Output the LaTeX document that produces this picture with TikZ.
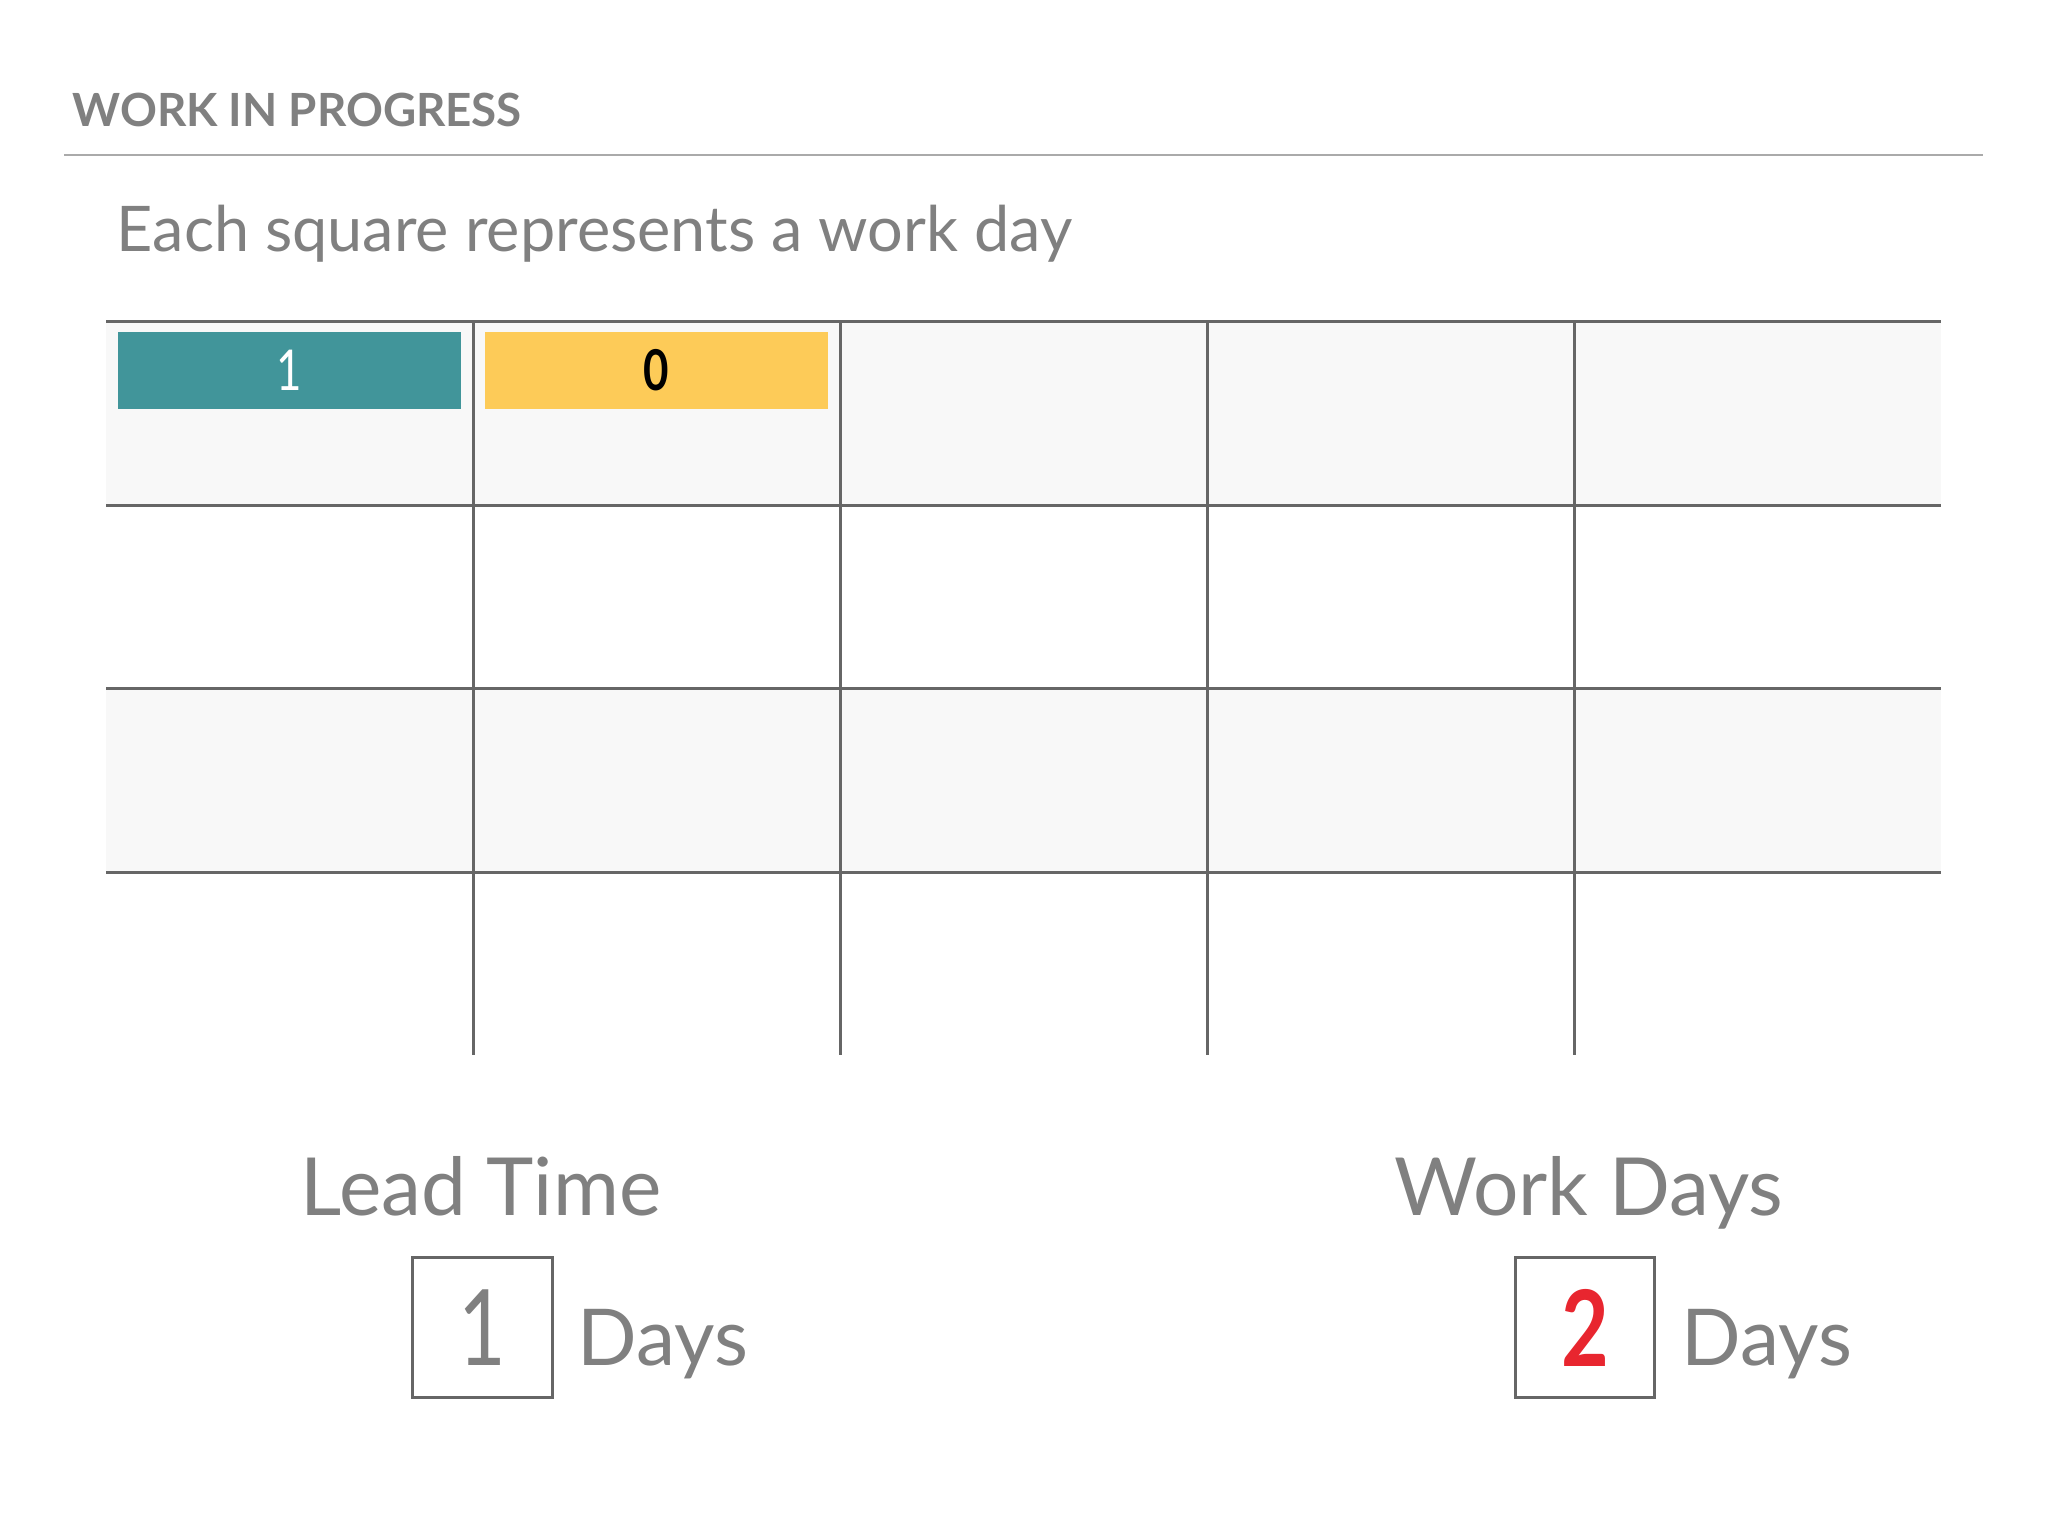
\documentclass[tikz,border=0pt]{standalone}
\usepackage{fontspec}
\setmainfont{Lato}
\definecolor{txtgray}{HTML}{808080}
\definecolor{rulegray}{HTML}{AAAAAA}
\definecolor{linegray}{HTML}{666666}
\definecolor{rowgray}{HTML}{F8F8F8}
\definecolor{teal}{HTML}{41959A}
\definecolor{mustard}{HTML}{FDCB58}
\definecolor{alarm}{HTML}{E8262F}
\newcommand{\narrow}[1]{\scalebox{0.78}[1]{#1}}
\tikzset{
  gridline/.style={draw=linegray, line width=0.85pt},
  daybar/.style={minimum width=3.43cm, minimum height=0.77cm, inner sep=0pt},
  countbox/.style={draw=linegray, line width=0.85pt, minimum size=1.39cm, inner sep=0pt},
  graytext/.style={text=txtgray, inner sep=0pt, anchor=base west}
}
\begin{document}
\begin{tikzpicture}[x=0.01cm, y=-0.01cm]
\useasboundingbox[fill=white] (0,0) rectangle (2048,1536);

\node[graytext, font=\fontsize{13}{13}\selectfont\bfseries] (title) at (72,126) {WORK IN PROGRESS};
\draw[draw=rulegray, line width=0.85pt] (64,155) -- (1983,155);
\node[graytext, font=\fontsize{17.9}{17.9}\selectfont] (note) at (116,251) {Each square represents a work day};

% grid
\fill[rowgray] (106,321) rectangle (1941,505);
\fill[rowgray] (106,688) rectangle (1941,872);
\foreach \y in {321,505,688,872}
  \draw[gridline] (106,\y) -- (1941,\y);
\foreach \x in {473,840,1207,1574}
  \draw[gridline] (\x,321) -- (\x,1055);

\node[daybar, fill=teal, text=white, font=\fontsize{16}{16}\selectfont] (leadbar) at (289.5,370.5) {\narrow{1}};
\node[daybar, fill=mustard, text=black, font=\fontsize{16}{16}\selectfont\bfseries] (workbar) at (656.5,370.5) {\narrow{0}};

% totals
\node[graytext, font=\fontsize{22.8}{22.8}\selectfont] (leadlabel) at (300,1215) {Lead Time};
\node[countbox, text=txtgray, font=\fontsize{30}{30}\selectfont] (leadcount) at (482.5,1327.5) {\narrow{1}};
\node[graytext, font=\fontsize{22.3}{22.3}\selectfont] (leaddays) at (577,1365) {Days};

\node[graytext, font=\fontsize{22.8}{22.8}\selectfont] (worklabel) at (1394,1215) {Work Days};
\node[countbox, text=alarm, font=\fontsize{30}{30}\selectfont\bfseries] (workcount) at (1585,1327.5) {\narrow{2}};
\node[graytext, font=\fontsize{22.3}{22.3}\selectfont] (workdays) at (1681,1365) {Days};
\end{tikzpicture}
\end{document}
